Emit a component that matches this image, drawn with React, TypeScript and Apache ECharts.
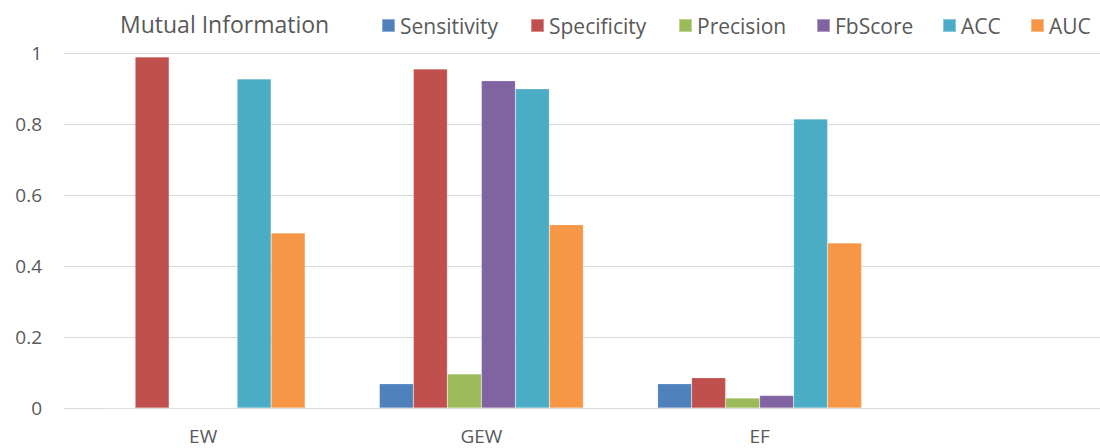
import React, { useEffect, useRef } from "react";
import * as echarts from "echarts";

const categories = ["EW", "GEW", "EF", ""];
const seriesNames = ["Sensitivity", "Specificity", "Precision", "FbScore", "ACC", "AUC"];
const sensitivity = [0, 0.068, 0.068, null];
const specificity = [0.989, 0.955, 0.085, null];
const precision = [0, 0.096, 0.028, null];
const fbScore = [0, 0.922, 0.035, null];
const acc = [0.927, 0.899, 0.814, null];
const auc = [0.493, 0.516, 0.465, null];
const yTicks = [0, 0.2, 0.4, 0.6, 0.8, 1];
const colors = ["#4F81BD", "#C0504D", "#9BBB59", "#8064A2", "#4BACC6", "#F79646"];
const legendLefts = [381, 530, 678, 816, 942, 1030];

const FONT = "'Open Sans', sans-serif";

export default function App() {
  const ref = useRef<HTMLDivElement>(null);
  useEffect(() => {
    if (!ref.current) return;
    const chart = echarts.init(ref.current, null, { renderer: "svg" });
    const values = [sensitivity, specificity, precision, fbScore, acc, auc];
    chart.setOption({
      animation: false,
      color: colors,
      title: {
        text: "Mutual Information",
        left: 115,
        top: 7,
        textStyle: { fontFamily: FONT, fontSize: 23, fontWeight: "normal", color: "#595959" },
      },
      legend: seriesNames.map((name, i) => ({
        data: [name],
        left: legendLefts[i],
        top: 15,
        padding: 0,
        itemWidth: 13,
        itemHeight: 13,
        icon: "rect",
        textStyle: { fontFamily: FONT, fontSize: 21, color: "#595959" },
      })),
      grid: { left: 64, right: 0, top: 53, bottom: 40, containLabel: false },
      xAxis: {
        type: "category",
        data: categories,
        axisLine: { lineStyle: { color: "#d9d9d9" } },
        axisTick: { show: false },
        axisLabel: { fontFamily: FONT, fontSize: 19, color: "#595959", margin: 18 },
      },
      yAxis: {
        type: "value",
        min: yTicks[0],
        max: yTicks[yTicks.length - 1],
        interval: 0.2,
        axisLine: { show: false },
        axisTick: { show: false },
        splitLine: { lineStyle: { color: "#d9d9d9" } },
        axisLabel: { fontFamily: FONT, fontSize: 19, color: "#595959", margin: 22 },
      },
      series: seriesNames.map((name, i) => ({
        name,
        type: "bar",
        data: values[i],
        barGap: "0%",
        barCategoryGap: "26.7%",
        itemStyle: { borderColor: "rgba(255,255,255,0.35)", borderWidth: 0.5 },
      })),
    });
    return () => chart.dispose();
  }, []);
  return (
    <div style={{ position: "fixed", left: 0, top: 0, width: 1100, height: 448, overflow: "hidden", background: "#fff" }}>
      <div ref={ref} style={{ width: 1177, height: 448 }} />
    </div>
  );
}
